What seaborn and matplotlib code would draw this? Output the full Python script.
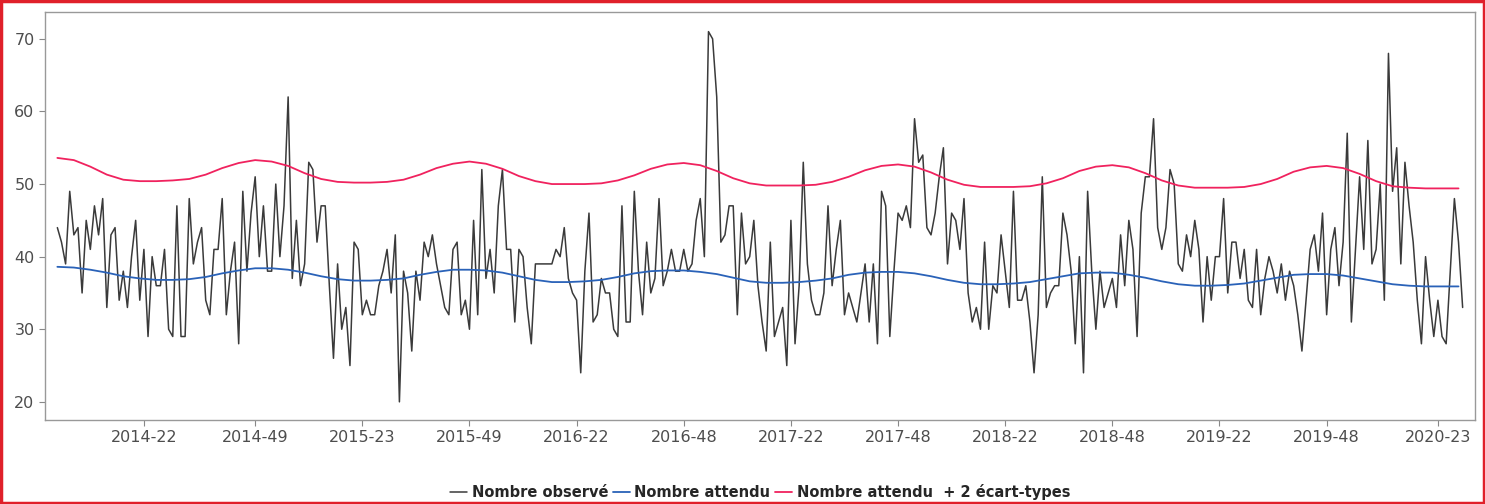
import numpy as np
import pandas as pd
import matplotlib
matplotlib.use("Agg")
import matplotlib.pyplot as plt
import seaborn as sns

# nombre observé par semaine (à partir de 2014-01)
observe = [
    44, 42, 39, 49, 43, 44, 35, 45, 41, 47, 43, 48, 33, 43, 44, 34, 38, 33, 40, 45,
    34, 41, 29, 40, 36, 36, 41, 30, 29, 47, 29, 29, 48, 39, 42, 44, 34, 32, 41, 41,
    48, 32, 38, 42, 28, 49, 38, 46, 51, 40, 47, 38, 38, 50, 40, 47, 62, 37, 45, 36,
    39, 53, 52, 42, 47, 47, 36, 26, 39, 30, 33, 25, 42, 41, 32, 34, 32, 32, 36, 38,
    41, 35, 43, 20, 38, 35, 27, 38, 34, 42, 40, 43, 39, 36, 33, 32, 41, 42, 32, 34,
    30, 45, 32, 52, 37, 41, 35, 47, 52, 41, 41, 31, 41, 40, 33, 28, 39, 39, 39, 39,
    39, 41, 40, 44, 37, 35, 34, 24, 38, 46, 31, 32, 37, 35, 35, 30, 29, 47, 31, 31,
    49, 38, 32, 42, 35, 37, 48, 36, 38, 41, 38, 38, 41, 38, 39, 45, 48, 40, 71, 70,
    62, 42, 43, 47, 47, 32, 46, 39, 40, 45, 36, 31, 27, 42, 29, 31, 33, 25, 45, 28,
    36, 53, 39, 34, 32, 32, 35, 47, 36, 41, 45, 32, 35, 33, 31, 35, 39, 31, 39, 28,
    49, 47, 29, 38, 46, 45, 47, 44, 59, 53, 54, 44, 43, 46, 51, 55, 39, 46, 45, 41,
    48, 35, 31, 33, 30, 42, 30, 36, 35, 43, 38, 33, 49, 34, 34, 36, 31, 24, 32, 51,
    33, 35, 36, 36, 46, 43, 38, 28, 40, 24, 49, 38, 30, 38, 33, 35, 37, 33, 43, 36,
    45, 41, 29, 46, 51, 51, 59, 44, 41, 44, 52, 50, 39, 38, 43, 40, 45, 41, 31, 40,
    34, 40, 40, 48, 35, 42, 42, 37, 41, 34, 33, 41, 32, 37, 40, 38, 35, 39, 34, 38,
    36, 32, 27, 34, 41, 43, 38, 46, 32, 41, 44, 36, 42, 57, 31, 41, 51, 41, 56, 39,
    41, 50, 34, 68, 49, 55, 39, 53, 47, 42, 34, 28, 40, 34, 29, 34, 29, 28, 38, 48,
    42, 33,
]

# nombre attendu, une valeur toutes les 4 semaines
attendu = [
    38.6, 38.5, 38.2, 37.8, 37.3, 37.0, 36.8, 36.8, 36.9, 37.2, 37.7, 38.1, 38.4,
    38.4, 38.2, 37.8, 37.3, 36.9, 36.7, 36.7, 36.8, 37.0, 37.5, 37.9, 38.2, 38.2,
    38.1, 37.8, 37.3, 36.8, 36.5, 36.5, 36.6, 36.8, 37.2, 37.7, 38.0, 38.1, 38.1,
    37.9, 37.6, 37.1, 36.6, 36.4, 36.4, 36.5, 36.7, 37.0, 37.5, 37.8, 37.9, 37.9,
    37.7, 37.3, 36.8, 36.4, 36.2, 36.2, 36.3, 36.5, 36.9, 37.3, 37.7, 37.8, 37.8,
    37.5, 37.1, 36.6, 36.2, 36.0, 36.0, 36.1, 36.3, 36.7, 37.1, 37.5, 37.6, 37.6,
    37.4, 37.0, 36.6, 36.2, 36.0, 35.9, 35.9, 35.9,
]

# nombre attendu + 2 écart-types, une valeur toutes les 4 semaines
seuil = [
    53.6, 53.3, 52.4, 51.3, 50.6, 50.4, 50.4, 50.5, 50.7, 51.3, 52.2, 52.9, 53.3,
    53.1, 52.5, 51.5, 50.7, 50.3, 50.2, 50.2, 50.3, 50.6, 51.3, 52.2, 52.8, 53.1,
    52.8, 52.1, 51.1, 50.4, 50.0, 50.0, 50.0, 50.1, 50.5, 51.2, 52.1, 52.7, 52.9,
    52.6, 51.8, 50.8, 50.1, 49.8, 49.8, 49.8, 49.9, 50.3, 51.0, 51.9, 52.5, 52.7,
    52.4, 51.6, 50.6, 49.9, 49.6, 49.6, 49.6, 49.7, 50.1, 50.8, 51.8, 52.4, 52.6,
    52.3, 51.5, 50.5, 49.8, 49.5, 49.5, 49.5, 49.6, 50.0, 50.7, 51.7, 52.3, 52.5,
    52.2, 51.4, 50.4, 49.7, 49.5, 49.4, 49.4, 49.4,
]

tick_labels = ["2014-22", "2014-49", "2015-23", "2015-49", "2016-22", "2016-48",
               "2017-22", "2017-48", "2018-22", "2018-48", "2019-22", "2019-48", "2020-23"]

n = len(observe)
dates = pd.date_range("2014-01-01", periods=n, freq="7D")
iso = dates.isocalendar()
semaines = [f"{y}-{w:02d}" for y, w in zip(iso["year"], iso["week"])]
ticks = [semaines.index(t) for t in tick_labels if t in semaines]
labels = [t for t in tick_labels if t in semaines]

df_obs = pd.DataFrame({"x": np.arange(n), "y": observe})
xa = np.minimum(np.arange(len(attendu)) * 4, n - 1)
df_att = pd.DataFrame({"x": xa, "y": attendu})
df_seuil = pd.DataFrame({"x": xa, "y": seuil})

sns.set_style("white")
fig = plt.figure(figsize=(14.85, 5.04), dpi=100)
ax = fig.add_axes([45 / 1485, 1 - 420 / 504, 1430 / 1485, 408 / 504])

sns.lineplot(data=df_obs, x="x", y="y", ax=ax, color="#3a3a3a", lw=1.1, label="Nombre observé")
sns.lineplot(data=df_att, x="x", y="y", ax=ax, color="#2a62b8", lw=1.3, label="Nombre attendu")
sns.lineplot(data=df_seuil, x="x", y="y", ax=ax, color="#f0225e", lw=1.3,
             label="Nombre attendu  + 2 écart-types")

ax.set_xlim(-3, n + 2)
ax.set_ylim(17.5, 73.7)
ax.set_yticks([20, 30, 40, 50, 60, 70])
ax.set_xticks(ticks)
ax.set_xticklabels(labels)
ax.set_xlabel("")
ax.set_ylabel("")
ax.tick_params(axis="both", length=4, color="#888888", labelsize=11.5, labelcolor="#4d4d4d",
               bottom=True, left=True)
for s in ax.spines.values():
    s.set_color("#999999")
    s.set_linewidth(1)

ax.legend(loc="upper center", bbox_to_anchor=(0.5, -0.125), ncol=3, frameon=False,
          handlelength=1.2, handletextpad=0.3, columnspacing=0.3,
          prop={"weight": "bold", "size": 10.5})

fig.patches.append(plt.Rectangle((0.001, 0.002), 0.998, 0.996, transform=fig.transFigure,
                                 fill=False, edgecolor="#e0202a", lw=2.5))
fig.savefig("out.png", dpi=100)
